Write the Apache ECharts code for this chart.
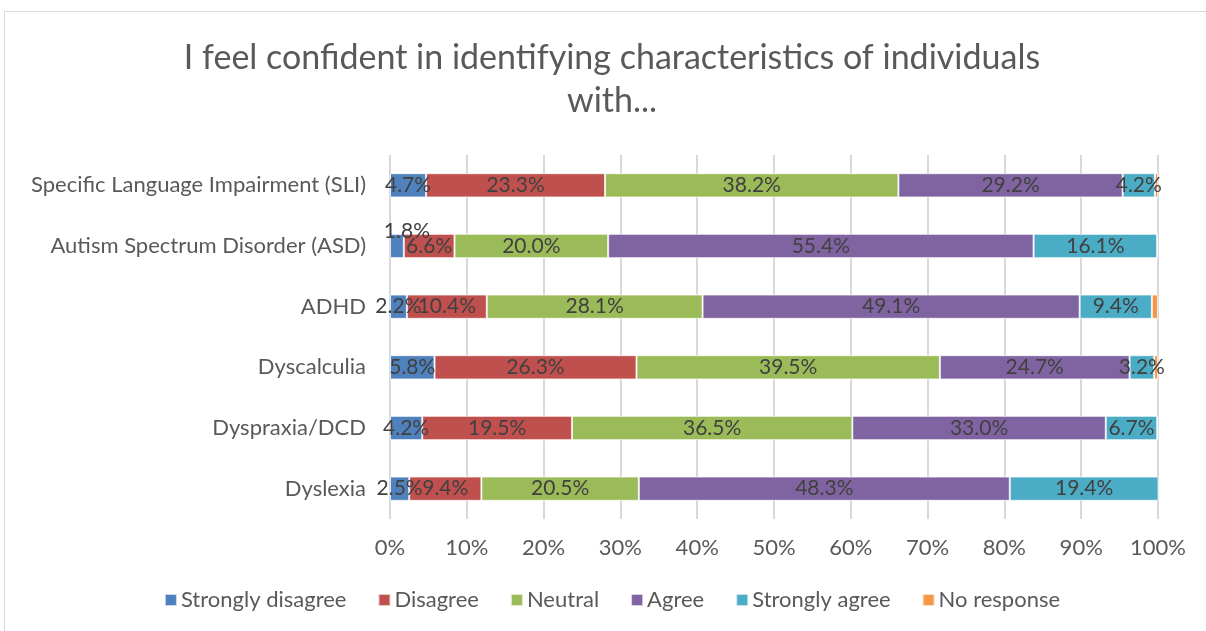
<!DOCTYPE html>
<html>
<head>
<meta charset="utf-8">
<title>I feel confident in identifying characteristics</title>
<script src="https://cdn.jsdelivr.net/npm/echarts@6/dist/echarts.min.js"></script>
<style>
  html, body { margin: 0; padding: 0; overflow: hidden; background: #fff; }
  .frame {
    position: absolute; left: 4px; top: 11px;
    width: 1400px; height: 800px;
    border: 1px solid #d9d9d9; box-sizing: border-box;
  }
  #chart { position: absolute; left: 4px; top: 0; width: 1216px; height: 631px; }
</style>
</head>
<body>
<div class="frame"></div>
<div id="chart"></div>
<script>
// categories, bottom to top (category axis starts at the bottom)
var categories = ["Dyslexia", "Dyspraxia/DCD", "Dyscalculia", "ADHD",
  "Autism Spectrum Disorder (ASD)", "Specific Language Impairment (SLI)"];

var seriesNames = ["Strongly disagree", "Disagree", "Neutral", "Agree", "Strongly agree", "No response"];

// percentages, same order as categories
var stronglyDisagree = [2.5, 4.2, 5.8, 2.2, 1.8, 4.7];
var disagree         = [9.4, 19.5, 26.3, 10.4, 6.6, 23.3];
var neutral          = [20.5, 36.5, 39.5, 28.1, 20.0, 38.2];
var agree            = [48.3, 33.0, 24.7, 49.1, 55.4, 29.2];
var stronglyAgree    = [19.4, 6.7, 3.2, 9.4, 16.1, 4.2];
var noResponse       = [0.0, 0.1, 0.5, 0.8, 0.0, 0.4];

var xTicks = ["0%", "10%", "20%", "30%", "40%", "50%", "60%", "70%", "80%", "90%", "100%"];

var colors = ["#4F81BD", "#C0504D", "#9BBB59", "#8064A2", "#4BACC6", "#F79646"];
var allValues = [stronglyDisagree, disagree, neutral, agree, stronglyAgree, noResponse];

var font = "Lato, 'Noto Sans', sans-serif";

var series = allValues.map(function (vals, i) {
  return {
    name: seriesNames[i],
    type: "bar",
    stack: "total",
    barWidth: "40%",
    itemStyle: { color: colors[i], borderColor: "rgba(255,255,255,0.7)", borderWidth: 1 },
    label: {
      show: i < 5,
      position: "inside",
      color: "#404040",
      fontFamily: font,
      fontSize: 21,
      formatter: function (p) { return p.value.toFixed(1) + "%"; }
    },
    // the tiny 1.8% label sits above its bar, as in the original
    data: vals.map(function (v) {
      if (i === 0 && v < 2) {
        return { value: v, label: { offset: [10, -15] } };
      }
      return v;
    })
  };
});

var chart = echarts.init(document.getElementById("chart"));
chart.setOption({
  animation: false,
  color: colors,
  title: {
    text: "I feel confident in identifying characteristics of individuals\nwith...",
    left: "center",
    top: 32,
    textStyle: { color: "#595959", fontFamily: font, fontSize: 34, fontWeight: "normal", lineHeight: 43 }
  },
  legend: {
    bottom: 15,
    left: "center",
    icon: "rect",
    itemWidth: 12,
    itemHeight: 12,
    itemGap: 31,
    textStyle: { color: "#595959", fontFamily: font, fontSize: 22, padding: [0, 0, 0, -1] },
    data: seriesNames
  },
  grid: { left: 386, right: 62, top: 155, bottom: 112, containLabel: false },
  xAxis: {
    type: "value",
    min: 0,
    max: 100,
    interval: 10,
    axisLine: { show: false },
    axisTick: { show: false },
    splitLine: { lineStyle: { color: "#d9d9d9", width: 2 } },
    axisLabel: {
      color: "#595959", fontFamily: font, fontSize: 22, margin: 18,
      formatter: function (v) { return xTicks[Math.round(v / 10)]; }
    }
  },
  yAxis: {
    type: "category",
    data: categories,
    axisLine: { show: false },
    axisTick: { show: false },
    axisLabel: { color: "#595959", fontFamily: font, fontSize: 22, margin: 24 }
  },
  series: series
});
</script>
</body>
</html>
